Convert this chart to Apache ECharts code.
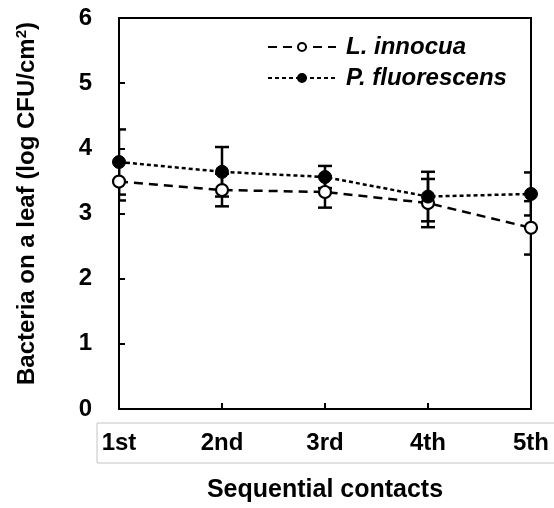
<!DOCTYPE html>
<html>
<head>
<meta charset="utf-8">
<script src="https://cdn.jsdelivr.net/npm/echarts@6/dist/echarts.min.js"></script>
<style>html,body{margin:0;padding:0;background:#fff;}#c{width:554px;height:508px;}</style>
</head>
<body>
<div id="c"></div>
<script>
var categories = ['1st', '2nd', '3rd', '4th', '5th'];
var liMean = [3.49, 3.36, 3.33, 3.16, 2.78];
var liErr  = [0.29, 0.25, 0.24, 0.37, 0.41];
var pfMean = [3.79, 3.64, 3.56, 3.26, 3.30];
var pfErr  = [0.50, 0.38, 0.17, 0.38, 0.33];
var yTicks = [0, 1, 2, 3, 4, 5, 6];

var FONT = "'Liberation Sans', Arial, sans-serif";

function errData(mean, err) {
  return mean.map(function (m, i) { return [i, m - err[i], m + err[i]]; });
}
function errSeries(mean, err) {
  return {
    type: 'custom',
    z: 1,
    silent: true,
    clip: true,
    data: errData(mean, err),
    renderItem: function (params, api) {
      var x = api.value(0);
      var lo = api.coord([x, api.value(1)]);
      var hi = api.coord([x, api.value(2)]);
      var hw = 7;
      var st = { stroke: '#000', lineWidth: 2.5 };
      return {
        type: 'group',
        children: [
          { type: 'line', shape: { x1: lo[0], y1: lo[1], x2: hi[0], y2: hi[1] }, style: st },
          { type: 'line', shape: { x1: lo[0] - hw, y1: lo[1], x2: lo[0] + hw, y2: lo[1] }, style: st },
          { type: 'line', shape: { x1: hi[0] - hw, y1: hi[1], x2: hi[0] + hw, y2: hi[1] }, style: st }
        ]
      };
    }
  };
}

var chart = echarts.init(document.getElementById('c'));
chart.setOption({
  animation: false,
  backgroundColor: '#fff',
  grid: { left: 119, right: 23, top: 18, bottom: 99, show: true, borderColor: '#000', borderWidth: 2 },
  legend: {
    orient: 'vertical',
    left: 262,
    top: 30,
    itemWidth: 68,
    itemHeight: 10,
    itemGap: 7,
    data: ['L. innocua', 'P. fluorescens'],
    textStyle: { fontFamily: FONT, fontSize: 24, fontWeight: 'bold', fontStyle: 'italic', color: '#000', lineHeight: 24, padding: [0, 0, 0, 5] }
  },
  graphic: [{
    type: 'rect',
    shape: { x: 97, y: 423, width: 470, height: 40 },
    style: { fill: null, stroke: '#c4c4c4', lineWidth: 1 },
    z: 0
  }],
  xAxis: {
    type: 'category',
    data: categories,
    boundaryGap: false,
    axisLine: { lineStyle: { color: '#000', width: 2 } },
    axisTick: { inside: true, length: 6, lineStyle: { color: '#000', width: 2 } },
    axisLabel: { margin: 22, fontFamily: FONT, fontSize: 24, fontWeight: 'bold', color: '#000' },
    name: 'Sequential contacts',
    nameLocation: 'middle',
    nameGap: 69,
    nameTextStyle: { fontFamily: FONT, fontSize: 25, fontWeight: 'bold', color: '#000' }
  },
  yAxis: {
    type: 'value',
    min: yTicks[0],
    max: yTicks[yTicks.length - 1],
    interval: 1,
    splitLine: { show: false },
    axisLine: { show: true, lineStyle: { color: '#000', width: 2 } },
    axisTick: { show: true, inside: true, length: 6, lineStyle: { color: '#000', width: 2 } },
    axisLabel: { margin: 27, fontFamily: FONT, fontSize: 24, fontWeight: 'bold', color: '#000' },
    name: '{t|Bacteria on a leaf (log CFU/cm}{s|2}{t|)}',
    nameLocation: 'middle',
    nameGap: 79,
    nameTextStyle: {
      fontFamily: FONT, fontSize: 24, fontWeight: 'bold', color: '#000',
      padding: [0, 0, 0, 20],
      rich: {
        t: { fontFamily: FONT, fontSize: 24, fontWeight: 'bold', color: '#000', lineHeight: 26 },
        s: { fontFamily: FONT, fontSize: 15, fontWeight: 'bold', color: '#000', verticalAlign: 'top', lineHeight: 26, padding: [0, 0, 10, 0] }
      }
    }
  },
  series: [
    errSeries(liMean, liErr),
    errSeries(pfMean, pfErr),
    {
      name: 'L. innocua',
      type: 'line',
      z: 3,
      data: liMean,
      symbol: 'circle',
      symbolSize: 12,
      showAllSymbol: true,
      lineStyle: { color: '#000', width: 2.5, type: [9, 6] },
      itemStyle: { color: '#fff', borderColor: '#000', borderWidth: 2.2 }
    },
    {
      name: 'P. fluorescens',
      type: 'line',
      z: 4,
      data: pfMean,
      symbol: 'circle',
      symbolSize: 13,
      showAllSymbol: true,
      lineStyle: { color: '#000', width: 2.5, type: [4, 3] },
      itemStyle: { color: '#000', borderColor: '#000', borderWidth: 1 }
    }
  ]
});
</script>
</body>
</html>
